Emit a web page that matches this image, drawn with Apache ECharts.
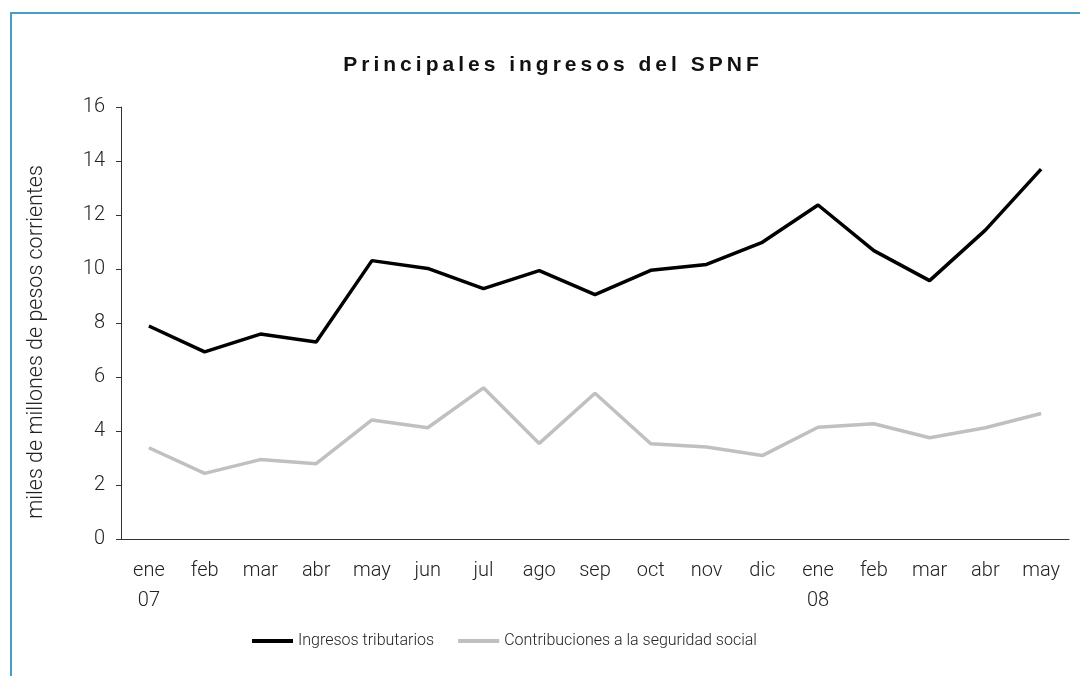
<!DOCTYPE html>
<html>
<head>
  <meta charset="utf-8">
  <script src="https://cdn.jsdelivr.net/npm/echarts@6/dist/echarts.min.js"></script>
</head>
<body style="margin:0;background:#fff;">
<div style="position:relative;width:1080px;height:676px;">
  <div id="main" style="width:1080px;height:676px;"></div>
  <div id="ttl" style="position:absolute;left:13px;top:50px;width:1080px;text-align:center;
       font-family:'Liberation Sans';font-weight:bold;font-size:21px;letter-spacing:4px;color:#111;
       line-height:28px;">Principales ingresos del SPNF</div>
</div>
<script type="text/javascript">
var months = ['ene\n07', 'feb', 'mar', 'abr', 'may', 'jun', 'jul', 'ago', 'sep', 'oct', 'nov', 'dic',
              'ene\n08', 'feb', 'mar', 'abr', 'may'];
var tributarios = [7.89, 6.93, 7.59, 7.30, 10.31, 10.02, 9.27, 9.94, 9.05, 9.95, 10.17, 10.99,
                   12.37, 10.68, 9.57, 11.44, 13.70];
var seguridad = [3.38, 2.43, 2.94, 2.79, 4.41, 4.12, 5.60, 3.54, 5.40, 3.53, 3.41, 3.09,
                 4.14, 4.27, 3.75, 4.12, 4.65];

var labelFont = 'Roboto';

var myChart = echarts.init(document.getElementById('main'));
myChart.setOption({
  animation: false,
  graphic: [{
    type: 'rect',
    shape: {x: 11, y: 13, width: 1200, height: 800},
    style: {fill: 'none', stroke: '#4a9cc7', lineWidth: 2},
    silent: true
  }, {
    type: 'text',
    x: 37,
    y: 342,
    rotation: Math.PI / 2,
    style: {
      text: 'miles de millones de pesos corrientes',
      fontFamily: labelFont, fontWeight: 300, fontSize: 21.5, fill: '#222',
      align: 'center', verticalAlign: 'middle'
    },
    silent: true
  }],
  legend: {
    bottom: 27,
    left: 252,
    padding: 0,
    itemWidth: 41,
    itemHeight: 4,
    itemGap: 24,
    textStyle: {fontFamily: labelFont, fontWeight: 300, fontSize: 16, color: '#222'},
    data: [{name: 'Ingresos tributarios', icon: 'rect'},
           {name: 'Contribuciones a la seguridad social', icon: 'rect'}]
  },
  grid: {left: 121, right: 11, top: 107, bottom: 137},
  xAxis: {
    type: 'category',
    data: months,
    boundaryGap: true,
    axisLine: {lineStyle: {color: '#333', width: 1}},
    axisTick: {length: 5, lineStyle: {color: '#333'}},
    axisLabel: {fontFamily: labelFont, fontWeight: 300, fontSize: 20, color: '#222',
                margin: 17, lineHeight: 30, interval: 0}
  },
  yAxis: {
    type: 'value',
    min: 0,
    max: 16,
    interval: 2,
    axisLine: {show: true, lineStyle: {color: '#333', width: 1}},
    axisTick: {show: true, length: 5, lineStyle: {color: '#333'}},
    splitLine: {show: false},
    axisLabel: {fontFamily: labelFont, fontWeight: 300, fontSize: 20, color: '#222', margin: 16}
  },
  series: [
    {
      name: 'Ingresos tributarios',
      type: 'line',
      data: tributarios,
      symbol: 'none',
      lineStyle: {color: '#000', width: 3.5},
      itemStyle: {color: '#000'}
    },
    {
      name: 'Contribuciones a la seguridad social',
      type: 'line',
      data: seguridad,
      symbol: 'none',
      lineStyle: {color: '#c0c0c0', width: 3.5},
      itemStyle: {color: '#c0c0c0'}
    }
  ]
});
</script>
</body>
</html>
